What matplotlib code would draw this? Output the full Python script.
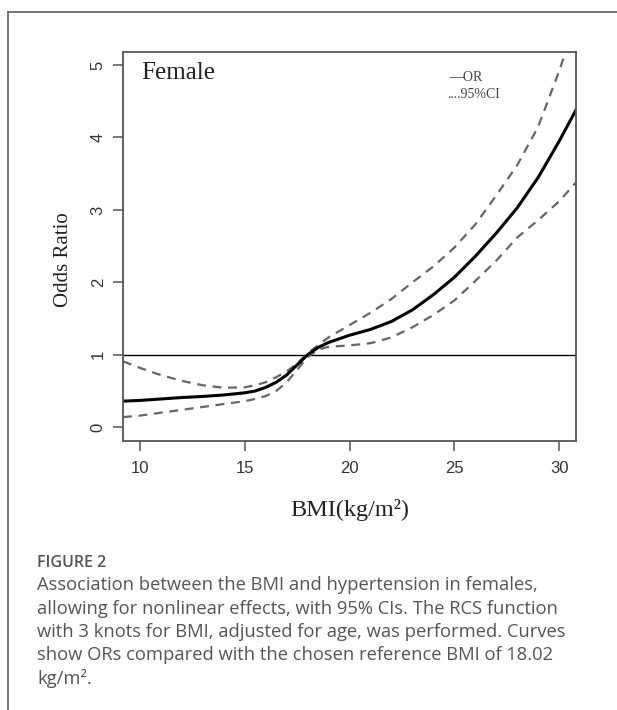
import matplotlib
matplotlib.use("Agg")
import matplotlib.pyplot as plt
from matplotlib.lines import Line2D

# values (BMI vs odds ratio, RCS fit)
bmi = [9.2, 10, 11, 12, 13, 14, 15, 15.5, 16, 16.5, 17, 17.5, 18, 18.5, 19,
       20, 21, 22, 23, 24, 25, 26, 27, 28, 29, 30, 30.8]
odds = [0.36, 0.37, 0.39, 0.41, 0.425, 0.445, 0.475, 0.50, 0.55, 0.62, 0.72,
        0.86, 1.0, 1.1, 1.17, 1.27, 1.35, 1.46, 1.62, 1.83, 2.07, 2.36, 2.68,
        3.03, 3.45, 3.95, 4.38]
ci_upper = [0.91, 0.82, 0.72, 0.64, 0.58, 0.545, 0.55, 0.58, 0.62, 0.69, 0.77,
            0.88, 1.02, 1.13, 1.24, 1.41, 1.58, 1.77, 2.0, 2.22, 2.48, 2.8, 3.2,
            3.62, 4.15, 4.92, 5.6]
ci_lower = [0.14, 0.16, 0.20, 0.24, 0.28, 0.32, 0.36, 0.39, 0.43, 0.50, 0.62,
            0.79, 0.97, 1.07, 1.11, 1.13, 1.16, 1.24, 1.38, 1.55, 1.75, 2.02,
            2.3, 2.62, 2.86, 3.12, 3.38]

x_ticks = [10, 15, 20, 25, 30]
y_ticks = [0, 1, 2, 3, 4, 5]

caption_title = "FIGURE 2"
caption_lines = [
    "Association between the BMI and hypertension in females,",
    "allowing for nonlinear effects, with 95% CIs. The RCS function",
    "with 3 knots for BMI, adjusted for age, was performed. Curves",
    "show ORs compared with the chosen reference BMI of 18.02",
    "kg/m\u00b2.",
]

W, H = 617, 710
fig = plt.figure(figsize=(W / 100, H / 100), dpi=100)

# page frame (top and left rule)
fig.add_artist(Line2D([8 / W, 1], [1 - 12 / H, 1 - 12 / H], color="#6a6a6a", lw=1.3))
fig.add_artist(Line2D([8 / W, 8 / W], [0, 1 - 12 / H], color="#6a6a6a", lw=1.3))

ax = fig.add_axes([123 / W, 1 - 441 / H, (576 - 123) / W, (441 - 52) / H])

ax.axhline(1, color="black", lw=1.0)
ax.plot(bmi, ci_upper, color="#666666", lw=1.6, linestyle=(0, (4, 3)))
ax.plot(bmi, ci_lower, color="#666666", lw=1.6, linestyle=(0, (4, 3)))
ax.plot(bmi, odds, color="black", lw=2.2)

ax.set_xlim(9.2, 30.8)
ax.set_ylim(-0.19, 5.18)
ax.set_xticks(x_ticks)
ax.set_yticks(y_ticks)

for s in ax.spines.values():
    s.set_color("#555555")
    s.set_linewidth(1.3)

ax.tick_params(direction="out", length=7.5, width=1.1, color="#555555",
               labelcolor="#333333", labelsize=12)
ax.tick_params(axis="x", pad=7)
ax.tick_params(axis="y", pad=5)
for lab in ax.get_xticklabels() + ax.get_yticklabels():
    lab.set_family("Liberation Sans")
for lab in ax.get_yticklabels():
    lab.set_rotation(90)
    lab.set_va("center")

ax.text(0.04, 0.975, "Female", transform=ax.transAxes, ha="left", va="top",
        family="Liberation Serif", fontsize=18, color="#222222")
ax.text(0.72, 0.935, "\u2014OR", transform=ax.transAxes, ha="left", va="center",
        family="Liberation Serif", fontsize=10, color="#444444")
ax.text(0.715, 0.89, "....95%CI", transform=ax.transAxes, ha="left", va="center",
        family="Liberation Serif", fontsize=10, color="#444444")

fig.text(350 / W, 1 - 510 / H, "BMI(kg/m\u00b2)", ha="center", va="center",
         family="Liberation Serif", fontsize=17.5, color="#222222")
fig.text(64 / W, 1 - 260 / H, "Odds Ratio", ha="center", va="center", rotation=90,
         family="Liberation Serif", fontsize=15, color="#222222")

# caption
fig.text(37 / W, 1 - 567 / H, caption_title, ha="left", va="baseline",
         family="Open Sans", fontsize=11.5, fontweight="semibold", color="#555555")
for i, line in enumerate(caption_lines):
    fig.text(37 / W, 1 - (590 + 23.5 * i) / H, line, ha="left", va="baseline",
             family="Open Sans", fontsize=13.2, color="#555555")

fig.savefig("out.png", dpi=100)
